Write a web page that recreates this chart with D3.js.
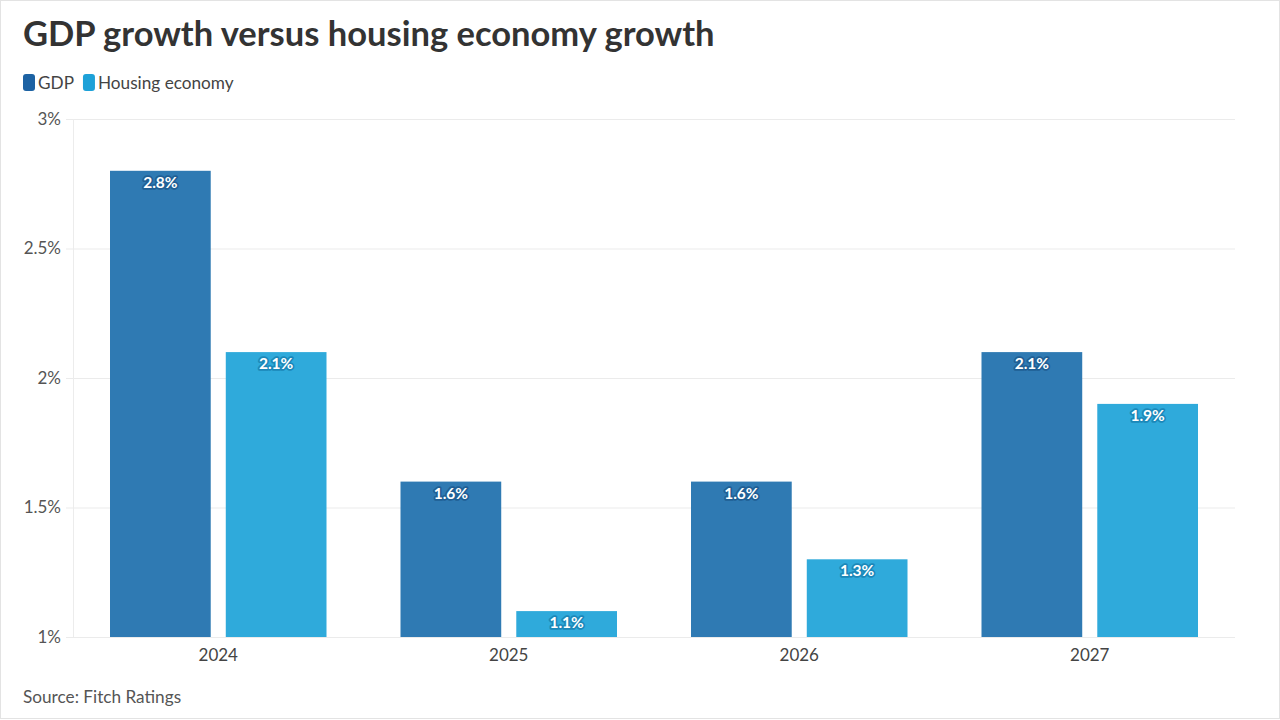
<!DOCTYPE html>
<html>
<head>
<meta charset="utf-8">
<script src="https://cdn.jsdelivr.net/npm/d3@7"></script>
<style>
  html, body { margin: 0; padding: 0; background: #fff; }
  svg { display: block; font-family: Lato, "Open Sans", sans-serif; }
</style>
</head>
<body>
<script>
const years = ['2024', '2025', '2026', '2027'];
const seriesNames = ['GDP', 'Housing economy'];
const gdp = [2.8, 1.6, 1.6, 2.1];
const housing = [2.1, 1.1, 1.3, 1.9];
const yTicks = [1, 1.5, 2, 2.5, 3];

const COLORS = ['#2f7ab3', '#2faadb'];
const LEGEND_COLORS = ['#1d62a3', '#1da1d8'];
const HALO = ['#1f5f95', '#1b88b9'];

const W = 1280, H = 720;
const PLOT_LEFT = 73, PLOT_RIGHT = 1235, PLOT_TOP = 119, PLOT_BOTTOM = 637;

const svg = d3.select('body').append('svg')
    .attr('width', W)
    .attr('height', H);

// outer border
svg.append('rect')
    .attr('x', 0.5).attr('y', 0.5)
    .attr('width', W - 1).attr('height', H - 2)
    .attr('fill', '#fff')
    .attr('stroke', '#e3e3e3');

// Title
svg.append('text')
    .attr('x', 23).attr('y', 46)
    .attr('font-size', 34.5)
    .attr('font-weight', 700)
    .attr('fill', '#333')
    .text('GDP growth versus housing economy growth');

// Legend
let legendX = 23;
seriesNames.forEach((name, i) => {
    const g = svg.append('g');
    g.append('rect')
        .attr('x', legendX).attr('y', 74)
        .attr('width', 12).attr('height', 17)
        .attr('rx', 3)
        .attr('fill', LEGEND_COLORS[i]);
    const t = g.append('text')
        .attr('x', legendX + 15).attr('y', 89)
        .attr('font-size', 17.2)
        .attr('fill', '#444')
        .text(name);
    legendX += 15 + t.node().getComputedTextLength() + 9;
});

const x0 = d3.scaleBand()
    .domain(years)
    .range([PLOT_LEFT, PLOT_RIGHT]);

const groupPad = 37;
const x1 = d3.scaleBand()
    .domain(seriesNames)
    .range([groupPad, x0.bandwidth() - groupPad])
    .paddingInner(0.13);

const y = d3.scaleLinear()
    .domain([1, 3])
    .range([PLOT_BOTTOM, PLOT_TOP]);

// Gridlines + y labels
const yAxis = svg.append('g')
    .attr('transform', `translate(${PLOT_LEFT},0)`)
    .call(d3.axisLeft(y)
        .tickValues(yTicks)
        .tickSize(-(PLOT_RIGHT - PLOT_LEFT))
        .tickPadding(12)
        .tickFormat(d => d + '%'));
yAxis.select('.domain').remove();
yAxis.selectAll('.tick line')
    .attr('x1', -7)
    .attr('stroke', '#ebebeb');
yAxis.selectAll('.tick text')
    .attr('font-size', 17)
    .attr('font-family', 'Lato, sans-serif')
    .attr('fill', '#555');

// faint left axis line
svg.append('line')
    .attr('x1', PLOT_LEFT + 0.5).attr('x2', PLOT_LEFT + 0.5)
    .attr('y1', PLOT_TOP).attr('y2', PLOT_BOTTOM)
    .attr('stroke', '#ececec');

// x axis labels
const xAxis = svg.append('g')
    .attr('transform', `translate(0,${PLOT_BOTTOM})`)
    .call(d3.axisBottom(x0).tickSize(0).tickPadding(12));
xAxis.select('.domain').remove();
xAxis.selectAll('.tick text')
    .attr('font-size', 17)
    .attr('font-family', 'Lato, sans-serif')
    .attr('fill', '#444');

// Bars
const rows = years.map((yr, i) => ({ year: yr, values: [gdp[i], housing[i]] }));

const groups = svg.append('g').selectAll('g')
    .data(rows)
    .join('g')
    .attr('transform', d => `translate(${x0(d.year)},0)`);

groups.selectAll('rect')
    .data(d => d.values.map((v, i) => ({ key: seriesNames[i], idx: i, value: v })))
    .join('rect')
    .attr('x', d => x1(d.key))
    .attr('y', d => y(d.value))
    .attr('width', x1.bandwidth())
    .attr('height', d => y(1) - y(d.value))
    .attr('fill', d => COLORS[d.idx]);

groups.selectAll('text.val')
    .data(d => d.values.map((v, i) => ({ key: seriesNames[i], idx: i, value: v })))
    .join('text')
    .attr('class', 'val')
    .attr('x', d => x1(d.key) + x1.bandwidth() / 2)
    .attr('y', d => y(d.value) + 17)
    .attr('text-anchor', 'middle')
    .attr('font-size', 15.5)
    .attr('font-weight', 700)
    .attr('fill', '#fff')
    .attr('stroke', d => HALO[d.idx])
    .attr('stroke-width', 3.5)
    .attr('stroke-linejoin', 'round')
    .attr('paint-order', 'stroke')
    .text(d => d.value.toFixed(1) + '%');

// Source
svg.append('text')
    .attr('x', 23).attr('y', 703)
    .attr('font-size', 17.2)
    .attr('fill', '#555')
    .text('Source: Fitch Ratings');
</script>
</body>
</html>
